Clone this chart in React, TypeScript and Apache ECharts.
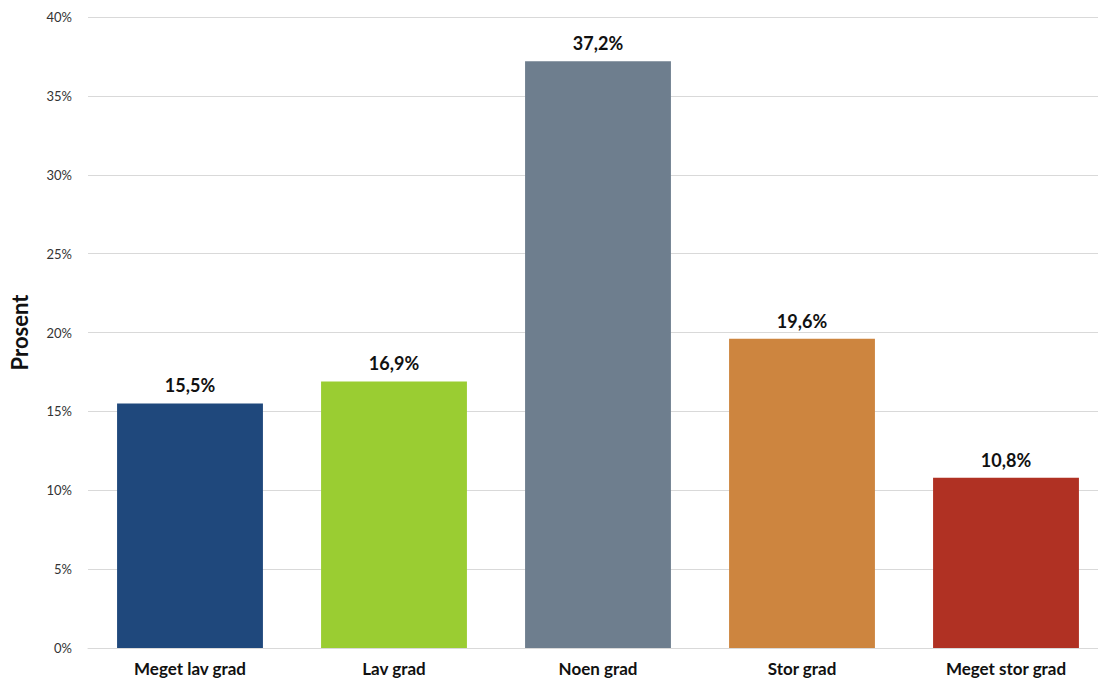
import React, { useEffect, useRef } from "react";
import * as echarts from "echarts";

const categories = ["Meget lav grad", "Lav grad", "Noen grad", "Stor grad", "Meget stor grad"];
const values = [15.5, 16.9, 37.2, 19.6, 10.8];
const barColors = ["#1F487C", "#9ACD32", "#6E7E8E", "#CD853F", "#B03123"];
const yTicks = { min: 0, max: 40, interval: 5 };
const yAxisTitle = "Prosent";

const FONT = "Lato, 'Open Sans', sans-serif";

export default function App() {
  const ref = useRef<HTMLDivElement>(null);

  useEffect(() => {
    document.body.style.margin = "0";
    const chart = echarts.init(ref.current!, undefined, { renderer: "svg" });
    chart.setOption({
      animation: false,
      backgroundColor: "#ffffff",
      // the last category runs past the visible frame on the right
      grid: { left: 88, right: 0, top: 17, bottom: 34, containLabel: false, outerBoundsMode: "none" },
      xAxis: {
        type: "category",
        data: categories,
        axisLine: { show: true, lineStyle: { color: "#d9d9d9", width: 1 } },
        axisTick: { show: false },
        axisLabel: {
          margin: 12,
          color: "#111",
          fontFamily: FONT,
          fontWeight: "bold",
          fontSize: 17,
        },
      },
      yAxis: {
        type: "value",
        min: yTicks.min,
        max: yTicks.max,
        interval: yTicks.interval,
        name: yAxisTitle,
        nameLocation: "middle",
        nameGap: 58,
        nameRotate: 90,
        nameTextStyle: { color: "#111", fontFamily: FONT, fontWeight: "bold", fontSize: 22 },
        axisLine: { show: false },
        axisTick: { show: false },
        splitLine: { lineStyle: { color: "#d9d9d9", width: 1 } },
        axisLabel: {
          margin: 16,
          color: "#333",
          fontFamily: FONT,
          fontSize: 13,
          formatter: (v: number) => `${v}%`,
        },
      },
      series: [
        {
          type: "bar",
          data: values.map((v, i) => ({ value: v, itemStyle: { color: barColors[i] } })),
          barCategoryGap: "28.5%",
          label: {
            show: true,
            position: "top",
            distance: 9,
            color: "#111",
            fontFamily: FONT,
            fontWeight: "bold",
            fontSize: 18,
            formatter: (p: any) => `${p.value.toFixed(1).replace(".", ",")}%`,
          },
        },
      ],
    });
    return () => chart.dispose();
  }, []);

  return (
    <div style={{ width: 1098, height: 682, overflow: "hidden", position: "relative" }}>
      <div ref={ref} style={{ width: 1108, height: 682 }} />
    </div>
  );
}
